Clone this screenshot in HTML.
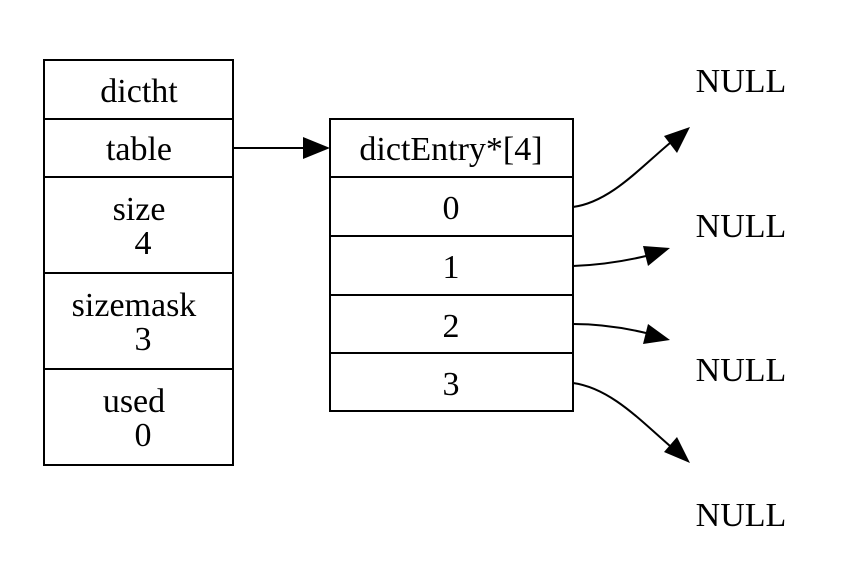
<!DOCTYPE html>
<html><head><meta charset="utf-8"><style>
html,body{margin:0;padding:0;background:#fff;width:848px;height:574px;overflow:hidden}
svg text{font-family:"Liberation Serif",serif;font-size:34px;fill:#000;text-anchor:middle}
</style></head><body>
<svg width="848" height="574" viewBox="0 0 848 574">
<g fill="none" stroke="#000" stroke-width="2">
 <rect x="44" y="60" width="189" height="405"/>
 <line x1="44" y1="119" x2="233" y2="119"/>
 <line x1="44" y1="177" x2="233" y2="177"/>
 <line x1="44" y1="273" x2="233" y2="273"/>
 <line x1="44" y1="369" x2="233" y2="369"/>
 <rect x="330" y="119" width="243" height="292"/>
 <line x1="330" y1="177" x2="573" y2="177"/>
 <line x1="330" y1="236" x2="573" y2="236"/>
 <line x1="330" y1="295" x2="573" y2="295"/>
 <line x1="330" y1="353" x2="573" y2="353"/>
 <line x1="233" y1="148" x2="305" y2="148"/>
 <path d="M573,207 C610,202 640,168 670,143"/>
 <path d="M573,266 C600,265 625,261 646,256"/>
 <path d="M573,324 C600,324 625,328 646,333"/>
 <path d="M573,383 C610,388 640,420 670,446"/>
</g>
<g fill="#000">
 <polygon points="330,148 303,137 303,159"/>
 <polygon points="690,127 664,136 677,153"/>
 <polygon points="670,248 643,246 648,266"/>
 <polygon points="670,340 648,324 643,344"/>
 <polygon points="690,463 677,437 664,452"/>
</g>
<text x="139" y="102">dictht</text>
<text x="139" y="160">table</text>
<text x="139" y="220">size</text>
<text x="143" y="254">4</text>
<text x="134" y="316">sizemask</text>
<text x="143" y="350">3</text>
<text x="134" y="412">used</text>
<text x="143" y="446">0</text>
<text x="451" y="160">dictEntry*[4]</text>
<text x="451" y="219">0</text>
<text x="451" y="278">1</text>
<text x="451" y="337">2</text>
<text x="451" y="395">3</text>
<text x="741" y="92">NULL</text>
<text x="741" y="237">NULL</text>
<text x="741" y="381">NULL</text>
<text x="741" y="526">NULL</text>
</svg>
</body></html>
